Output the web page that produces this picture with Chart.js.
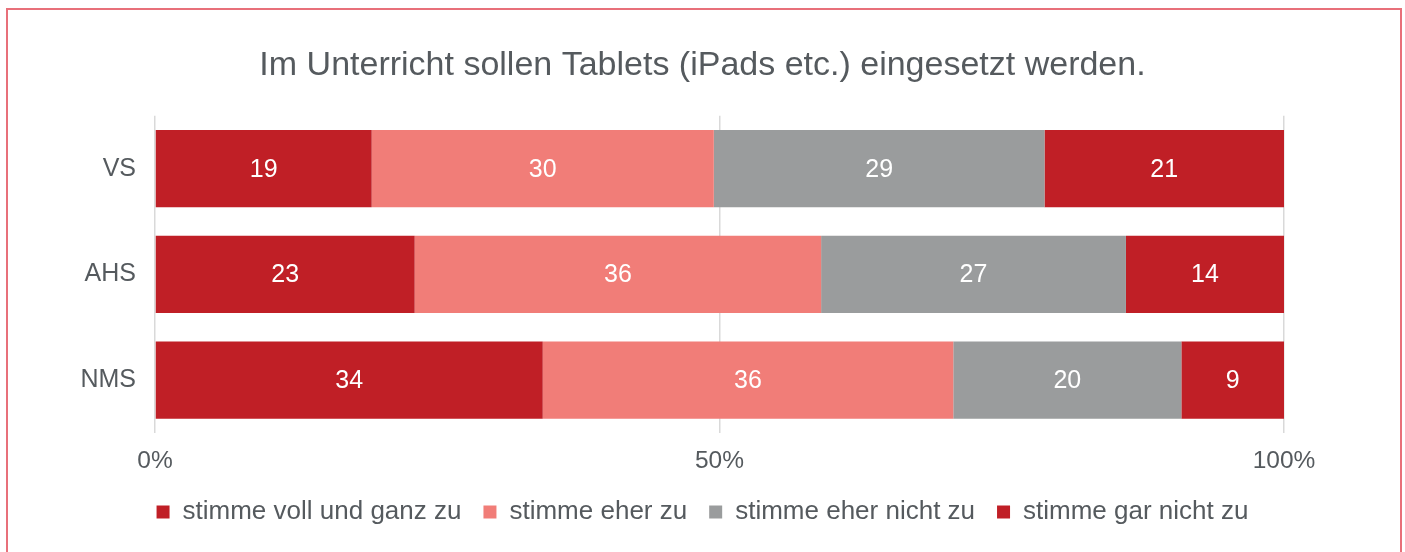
<!DOCTYPE html>
<html>
<head>
<meta charset="utf-8">
<script src="https://cdn.jsdelivr.net/npm/chart.js@4"></script>
<style>
  html, body { margin: 0; padding: 0; background: #fff; }
  #wrap { position: relative; width: 1405px; height: 552px; overflow: hidden; }
  #frame { position: absolute; left: 6px; top: 8px; width: 1396px; height: 600px;
           border: 2px solid #e8707a; box-sizing: border-box; }
  canvas { position: absolute; left: 0; top: 0; }
</style>
</head>
<body>
<div id="wrap">
  <div id="frame"></div>
  <canvas id="chart" width="1405" height="552"></canvas>
</div>
<script>
// --- Data ---
const schools = ['VS', 'AHS', 'NMS'];
const seriesNames = ['stimme voll und ganz zu', 'stimme eher zu', 'stimme eher nicht zu', 'stimme gar nicht zu'];
const vollUndGanz = [19, 23, 34];
const eherZu = [30, 36, 36];
const eherNicht = [29, 27, 20];
const garNicht = [21, 14, 9];
const tickLabels = ['0%', '50%', '100%'];

const colors = ['#c01f26', '#f17d78', '#9a9c9d', '#c01f26'];
const textColor = '#555a5e';
const fontFamily = '"Liberation Sans", Arial, sans-serif';

// rows are shown as shares of 100%
const raw = [vollUndGanz, eherZu, eherNicht, garNicht];
const rowSums = schools.map((_, i) => raw.reduce((s, arr) => s + arr[i], 0));

const datasets = raw.map((arr, k) => ({
    label: seriesNames[k],
    data: arr.map((v, i) => v / rowSums[i] * 100),
    rawValues: arr,
    backgroundColor: colors[k],
    borderWidth: 0,
    barPercentage: 0.73,
    categoryPercentage: 1
}));

// value labels inside the bars
const valueLabels = {
    id: 'valueLabels',
    afterDatasetsDraw(chart) {
        const ctx = chart.ctx;
        ctx.save();
        ctx.fillStyle = '#ffffff';
        ctx.font = '25px ' + fontFamily;
        ctx.textAlign = 'center';
        ctx.textBaseline = 'middle';
        chart.data.datasets.forEach((ds, k) => {
            chart.getDatasetMeta(k).data.forEach((bar, i) => {
                const cx = (bar.x + bar.base) / 2;
                ctx.fillText(String(ds.rawValues[i]), cx, bar.y + 1);
            });
        });
        ctx.restore();
    }
};

new Chart(document.getElementById('chart'), {
    type: 'bar',
    data: { labels: schools, datasets: datasets },
    plugins: [valueLabels],
    options: {
        indexAxis: 'y',
        responsive: false,
        animation: false,
        layout: { padding: { left: 0, right: 0, top: 45, bottom: 17 } },
        plugins: {
            title: {
                display: true,
                text: 'Im Unterricht sollen Tablets (iPads etc.) eingesetzt werden.',
                color: textColor,
                font: { family: fontFamily, size: 34, weight: 'normal' },
                padding: { top: 0, bottom: 30 }
            },
            legend: {
                position: 'bottom',
                labels: {
                    color: textColor,
                    font: { family: fontFamily, size: 26 },
                    boxWidth: 13,
                    boxHeight: 13,
                    padding: 22
                }
            },
            tooltip: { enabled: false }
        },
        scales: {
            x: {
                stacked: true,
                min: 0,
                max: 100,
                border: { display: false },
                grid: { color: '#d9d9d9', drawTicks: false, lineWidth: 1.5 },
                ticks: {
                    stepSize: 50,
                    padding: 14,
                    color: textColor,
                    font: { family: fontFamily, size: 24.5 },
                    callback: (v) => tickLabels[v / 50]
                },
                afterFit: (scale) => { scale.height = 44; }
            },
            y: {
                stacked: true,
                border: { display: false },
                grid: { display: false, drawTicks: false },
                ticks: {
                    padding: 19,
                    color: textColor,
                    font: { family: fontFamily, size: 25 }
                },
                afterFit: (scale) => { scale.width = 155; }
            },
            // empty right-hand axis that only reserves the space right of 100%
            yRight: {
                type: 'category',
                position: 'right',
                border: { display: false },
                grid: { display: false, drawTicks: false },
                ticks: { display: false },
                afterFit: (scale) => { scale.width = 121; }
            }
        }
    }
});
</script>
</body>
</html>
